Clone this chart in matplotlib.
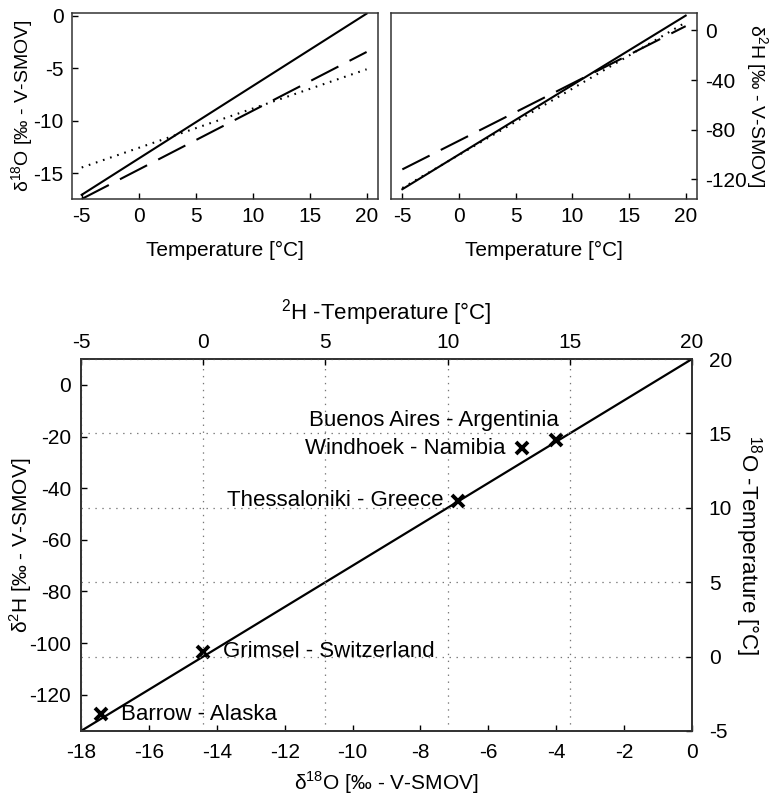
import matplotlib
matplotlib.use("Agg")
import matplotlib.pyplot as plt
from matplotlib import font_manager

plt.rcParams['font.family'] = ['Liberation Sans', 'DejaVu Sans']
plt.rcParams['lines.scale_dashes'] = False
plt.rcParams['axes.unicode_minus'] = False
names_avail = {f.name for f in font_manager.fontManager.ttflist}
NARROW = ['Liberation Sans Narrow', 'Liberation Sans', 'DejaVu Sans'] if 'Liberation Sans Narrow' in names_avail else ['Liberation Sans', 'DejaVu Sans']

# ---------------- data ----------------
temp_ends = [-5, 20]
d18O_solid = [-17.05, 0.2]
d18O_dashed = [-17.45, -3.45]
d18O_dotted = [-14.45, -5.1]
d2H_solid = [-128, 12]
d2H_dashed = [-112, 3.5]
d2H_dotted = [-127, 6.5]

mwl_d18O = [-18, 0]
mwl_d2H = [-134, 10]

stations = ['Barrow - Alaska', 'Grimsel - Switzerland', 'Thessaloniki - Greece',
            'Windhoek - Namibia', 'Buenos Aires - Argentinia']
st_d18O = [-17.4, -14.4, -6.9, -5.0, -4.0]
st_d2H = [-127.5, -103.4, -44.8, -24.5, -21.3]

temp_ticks = [-5, 0, 5, 10, 15, 20]
d18O_ticks_top = [0, -5, -10, -15]
d2H_ticks_top = [0, -40, -80, -120]
d18O_ticks = [-18, -16, -14, -12, -10, -8, -6, -4, -2, 0]
d2H_ticks = [0, -20, -40, -60, -80, -100, -120]

# ---------------- figure ----------------
fig = plt.figure(figsize=(7.7, 7.98), dpi=100)
ax1 = fig.add_axes([0.0935, 0.7506, 0.3974, 0.2331])
ax2 = fig.add_axes([0.5078, 0.7506, 0.3974, 0.2331])
ax3 = fig.add_axes([0.1052, 0.0840, 0.7935, 0.4661])

FS = 15
dash_style = (0, (22, 9))
dot_style = (0, (1.2, 4.2))

def style(ax):
    for s in ax.spines.values():
        s.set_linewidth(1.1)
        s.set_color('#333333')
    ax.tick_params(direction='in', length=4, width=1, labelsize=FS, colors='black')

# top-left
ax1.plot(temp_ends, d18O_solid, color='black', lw=1.5)
ax1.plot(temp_ends, d18O_dashed, color='black', lw=1.5, linestyle=dash_style)
ax1.plot(temp_ends, d18O_dotted, color='black', lw=1.5, linestyle=dot_style)
ax1.set_xlim(-5.85, 21)
ax1.set_ylim(-17.45, 0.26)
ax1.set_xticks(temp_ticks)
ax1.set_yticks(d18O_ticks_top)
style(ax1)
ax1.tick_params(pad=6)
ax1.set_xlabel('Temperature [°C]', fontsize=FS)
ax1.xaxis.set_label_coords(0.5, -0.225)
ax1.set_ylabel('δ$^{\\mathregular{18}}$O [‰ - V-SMOV]', fontsize=FS - 1, va='center', ha='center')
ax1.yaxis.set_label_coords(-0.16, 0.5)

# top-right
ax2.plot(temp_ends, d2H_solid, color='black', lw=1.5)
ax2.plot(temp_ends, d2H_dashed, color='black', lw=1.5, linestyle=dash_style)
ax2.plot(temp_ends, d2H_dotted, color='black', lw=1.5, linestyle=dot_style)
ax2.set_xlim(-6.0, 21)
ax2.set_ylim(-135.9, 14.1)
ax2.set_xticks(temp_ticks)
ax2.set_yticks(d2H_ticks_top)
ax2.yaxis.tick_right()
ax2.yaxis.set_label_position('right')
style(ax2)
ax2.tick_params(pad=6)
ax2.set_xlabel('Temperature [°C]', fontsize=FS)
ax2.xaxis.set_label_coords(0.5, -0.225)
ax2.set_ylabel('δ$^{\\mathregular{2}}$H [‰ - V-SMOV]', fontsize=FS - 1, rotation=270, va='center', ha='center')
ax2.yaxis.set_label_coords(1.195, 0.5)

# bottom
ax3.plot(mwl_d18O, mwl_d2H, color='black', lw=1.6, zorder=3)
ax3.plot(st_d18O, st_d2H, linestyle='none', marker='x', color='black', ms=9, mew=2.8, zorder=4)
offsets = [(14, 0, 'left'), (14, 0, 'left'), (-10, 0, 'right'), (-12, 0, 'right'), (2, 14, 'right')]
for name, x, y, (dx, dy, ha) in zip(stations, st_d18O, st_d2H, offsets):
    ax3.annotate(name, (x, y), xytext=(dx, dy), textcoords='offset points',
                 ha=ha, va='center', fontsize=FS + 1, family=NARROW)
ax3.set_xlim(-18, 0)
ax3.set_ylim(-134, 10)
ax3.set_xticks(d18O_ticks)
ax3.set_yticks(d2H_ticks)
style(ax3)
ax3.tick_params(axis='x', pad=9)
ax3.tick_params(axis='y', pad=7)
ax3.set_xlabel('δ$^{\\mathregular{18}}$O [‰ - V-SMOV]', fontsize=FS, family=NARROW, va='center')
ax3.xaxis.set_label_coords(0.5, -0.138)
ax3.set_ylabel('δ$^{\\mathregular{2}}$H [‰ - V-SMOV]', fontsize=FS, family=NARROW, va='center', ha='center')
ax3.yaxis.set_label_coords(-0.099, 0.5)

axt = ax3.twiny()
axt.set_xlim(-5, 20)
axt.set_xticks(temp_ticks)
axt.tick_params(direction='in', length=4, width=1, labelsize=FS, pad=5)
axt.set_xlabel('$^{\\mathregular{2}}$H -Temperature [°C]', fontsize=FS + 1, family=NARROW, va='center')
axt.xaxis.set_label_coords(0.5, 1.126)
axt.xaxis.grid(True, linestyle=(0, (1, 4)), color='#777777', lw=0.9)

axr = ax3.twinx()
axr.set_ylim(-5, 20)
axr.set_yticks(temp_ticks)
axr.tick_params(direction='in', length=4, width=1, labelsize=FS, pad=12)
axr.set_ylabel('$^{\\mathregular{18}}$O -Temperature [°C]', fontsize=FS + 1, family=NARROW,
               rotation=270, va='center', ha='center')
axr.yaxis.set_label_coords(1.092, 0.5)
axr.yaxis.grid(True, linestyle=(0, (1, 4)), color='#777777', lw=0.9)
for a in (axt, axr):
    for s in a.spines.values():
        s.set_linewidth(1.1)
        s.set_color('#333333')

fig.savefig('out.png', dpi=100)
